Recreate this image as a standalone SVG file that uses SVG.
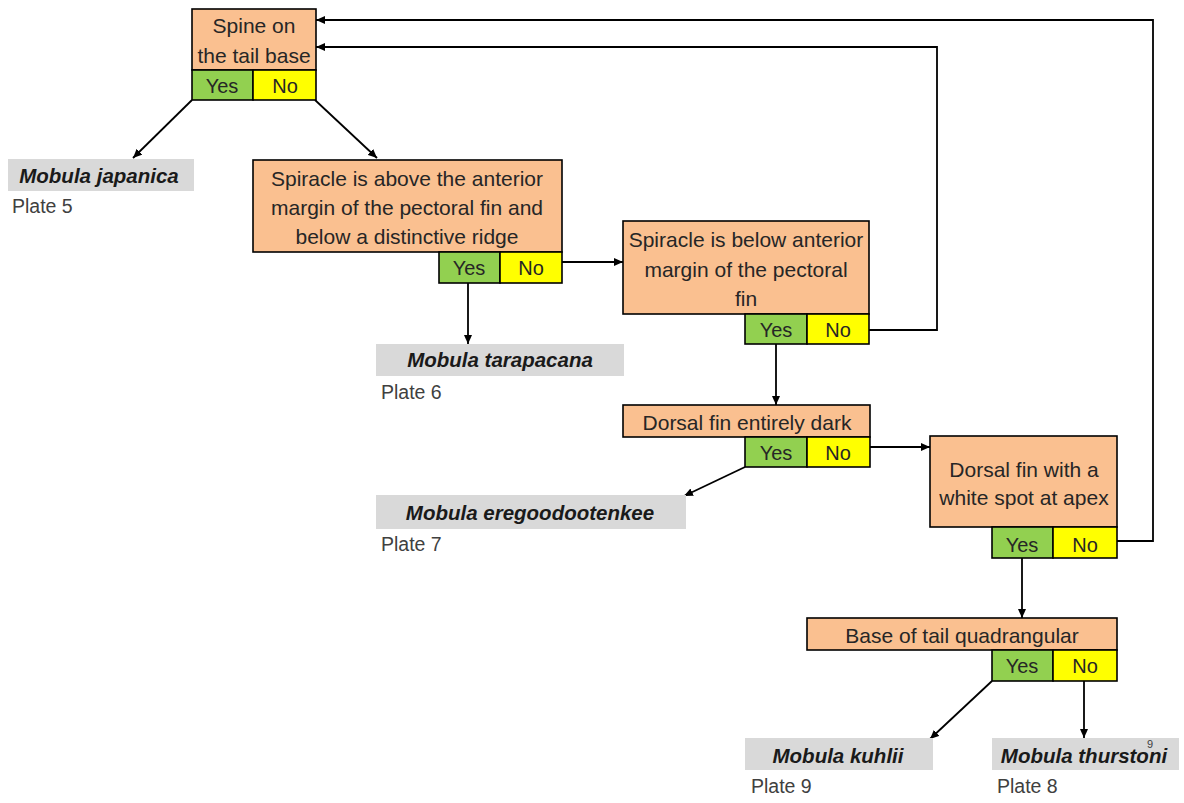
<svg xmlns="http://www.w3.org/2000/svg" width="1184" height="803" viewBox="0 0 1184 803">
<defs>
<marker id="ah" markerWidth="9" markerHeight="8" refX="9" refY="4" orient="auto" markerUnits="userSpaceOnUse">
<path d="M0,0 L9,4 L0,8 Z" fill="#000"/>
</marker>
<style>
.q{fill:#FAC090;stroke:#000;stroke-width:1.6}
.y{fill:#92D050;stroke:#000;stroke-width:1.6}
.n{fill:#FFFF00;stroke:#000;stroke-width:1.6}
.sp{fill:#D9D9D9}
.t{font-family:"Liberation Sans",Arial,sans-serif;font-size:21px;fill:#262626;text-anchor:middle}
.yn{font-family:"Liberation Sans",Arial,sans-serif;font-size:20px;fill:#262626;text-anchor:middle}
.s{font-family:"Liberation Sans",Arial,sans-serif;font-size:20.5px;font-weight:bold;font-style:italic;fill:#1a1a1a;text-anchor:middle}
.p{font-family:"Liberation Sans",Arial,sans-serif;font-size:19.5px;fill:#404040}
.c{fill:none;stroke:#000;stroke-width:1.8}
</style>
</defs>
<rect width="1184" height="803" fill="#fff"/>

<g id="connectors">
<path class="c" d="M192,100 L133,158" marker-end="url(#ah)"/>
<path class="c" d="M315,100 L377,158" marker-end="url(#ah)"/>
<path class="c" d="M468,283 L468,344" marker-end="url(#ah)"/>
<path class="c" d="M562,262 L623,262" marker-end="url(#ah)"/>
<path class="c" d="M776,344 L776,405" marker-end="url(#ah)"/>
<path class="c" d="M870,447 L930,447" marker-end="url(#ah)"/>
<path class="c" d="M745,467 L684,496" marker-end="url(#ah)"/>
<path class="c" d="M1022,558 L1022,618" marker-end="url(#ah)"/>
<path class="c" d="M992,681 L930,739" marker-end="url(#ah)"/>
<path class="c" d="M1084,681 L1084,738" marker-end="url(#ah)"/>
<path class="c" d="M1117,541 L1153,541 L1153,20 L316,20" marker-end="url(#ah)"/>
<path class="c" d="M869,330 L937,330 L937,47 L316,47" marker-end="url(#ah)"/>
</g>

<g id="node-spine">
<rect class="q" x="192" y="9" width="124" height="61"/>
<rect class="y" x="192" y="70" width="61" height="30"/>
<rect class="n" x="253" y="70" width="63" height="30"/>
<text class="t" x="254" y="33">Spine on</text>
<text class="t" x="254" y="63">the tail base</text>
<text class="yn" x="222" y="93">Yes</text>
<text class="yn" x="285" y="93">No</text>
</g>

<g id="species-japanica">
<rect class="sp" x="8" y="159" width="186" height="32"/>
<text class="s" x="99" y="183">Mobula japanica</text>
<text class="p" x="12" y="213">Plate 5</text>
</g>

<g id="node-spiracle-above">
<rect class="q" x="253" y="160" width="309" height="92"/>
<rect class="y" x="439" y="252" width="61" height="31"/>
<rect class="n" x="500" y="252" width="62" height="31"/>
<text class="t" x="407" y="186">Spiracle is above the anterior</text>
<text class="t" x="407" y="215">margin of the pectoral fin and</text>
<text class="t" x="407" y="244">below a distinctive ridge</text>
<text class="yn" x="469" y="275">Yes</text>
<text class="yn" x="531" y="275">No</text>
</g>

<g id="species-tarapacana">
<rect class="sp" x="376" y="344" width="248" height="32"/>
<text class="s" x="500" y="367">Mobula tarapacana</text>
<text class="p" x="381" y="399">Plate 6</text>
</g>

<g id="node-spiracle-below">
<rect class="q" x="623" y="221" width="246" height="93"/>
<rect class="y" x="745" y="314" width="62" height="30"/>
<rect class="n" x="807" y="314" width="62" height="30"/>
<text class="t" x="746" y="247">Spiracle is below anterior</text>
<text class="t" x="746" y="277">margin of the pectoral</text>
<text class="t" x="746" y="306">fin</text>
<text class="yn" x="776" y="337">Yes</text>
<text class="yn" x="838" y="337">No</text>
</g>

<g id="node-dorsal-dark">
<rect class="q" x="623" y="405" width="247" height="32"/>
<rect class="y" x="745" y="437" width="62" height="30"/>
<rect class="n" x="807" y="437" width="63" height="30"/>
<text class="t" x="747" y="430">Dorsal fin entirely dark</text>
<text class="yn" x="776" y="460">Yes</text>
<text class="yn" x="838" y="460">No</text>
</g>

<g id="species-eregoodootenkee">
<rect class="sp" x="376" y="495" width="310" height="34"/>
<text class="s" x="530" y="520">Mobula eregoodootenkee</text>
<text class="p" x="381" y="551">Plate 7</text>
</g>

<g id="node-dorsal-spot">
<rect class="q" x="930" y="436" width="187" height="91"/>
<rect class="y" x="992" y="527" width="61" height="31"/>
<rect class="n" x="1053" y="527" width="64" height="31"/>
<text class="t" x="1024" y="477">Dorsal fin with a</text>
<text class="t" x="1024" y="505">white spot at apex</text>
<text class="yn" x="1022" y="552">Yes</text>
<text class="yn" x="1085" y="552">No</text>
</g>

<g id="node-tail-base">
<rect class="q" x="807" y="618" width="310" height="32"/>
<rect class="y" x="992" y="650" width="61" height="31"/>
<rect class="n" x="1053" y="650" width="64" height="31"/>
<text class="t" x="962" y="643">Base of tail quadrangular</text>
<text class="yn" x="1022" y="673">Yes</text>
<text class="yn" x="1085" y="673">No</text>
</g>

<g id="species-kuhlii">
<rect class="sp" x="745" y="738" width="188" height="32"/>
<text class="s" x="838" y="763">Mobula kuhlii</text>
<text class="p" x="751" y="793">Plate 9</text>
</g>

<g id="species-thurstoni">
<rect class="sp" x="992" y="738" width="187" height="32"/>
<text class="s" x="1084" y="763">Mobula thurstoni</text>
<text class="p" x="997" y="793">Plate 8</text>
<text x="1150" y="748" style="font-family:'Liberation Sans',Arial,sans-serif;font-size:11px;fill:#404040;text-anchor:middle">9</text>
</g>
</svg>
